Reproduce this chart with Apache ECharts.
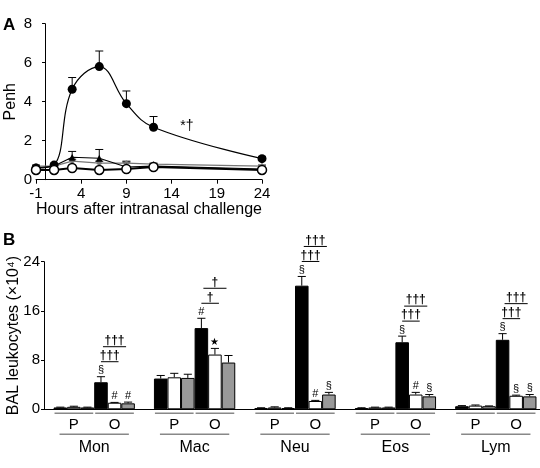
<!DOCTYPE html>
<html>
<head>
<meta charset="utf-8">
<script src="https://cdn.jsdelivr.net/npm/echarts@6/dist/echarts.min.js"></script>
<style>
html, body { margin: 0; padding: 0; background: #fff; }
#main { width: 540px; height: 468px; }
</style>
</head>
<body>
<div id="main"></div>
<script>
// ---- panel A: Penh over time ----
var hours = [-1, 1, 3, 6, 9, 12, 24];
var penhBlack = [0.6, 0.75, 4.64, 5.8, 3.9, 2.69, 1.08];
var penhBlackErr = [0.1, 0.1, 0.6, 0.8, 0.65, 0.55, 0.1];
var penhTri = [0.6, 0.7, 1.15, 1.1, 0.65, 0.7, 0.55];
var penhTriErr = [0.05, 0.05, 0.3, 0.45, 0.25, 0.1, 0.05];
var penhGray = [0.7, 0.7, 0.95, 0.85, 0.85, 0.8, 0.7];
var penhGrayErr = [0.05, 0.05, 0.1, 0.1, 0.1, 0.05, 0.05];
var penhOpen = [0.5, 0.5, 0.6, 0.5, 0.55, 0.65, 0.5];
var noteAText = '*†';
var noteAPos = [15.7, 2.75];

// ---- panel B: BAL leukocytes ----
var cellTypes = ['Mon', 'Mac', 'Neu', 'Eos', 'Lym'];
var pBlack = [0.3, 5.0, 0.2, 0.2, 0.5];
var pWhite = [0.4, 5.2, 0.3, 0.3, 0.6];
var pGray = [0.3, 5.1, 0.2, 0.3, 0.5];
var oBlack = [4.4, 13.2, 20.1, 10.9, 11.3];
var oWhite = [1.07, 8.9, 1.35, 2.4, 2.2];
var oGray = [0.97, 7.6, 2.4, 2.1, 2.1];
var pBlackErr = [0.05, 0.5, 0.05, 0.05, 0.1];
var pWhiteErr = [0.1, 0.65, 0.1, 0.05, 0.1];
var pGrayErr = [0.05, 0.6, 0.05, 0.05, 0.05];
var oBlackErr = [0.9, 1.6, 1.5, 1.0, 1.0];
var oWhiteErr = [0.05, 1.0, 0.1, 0.35, 0.1];
var oGrayErr = [0.2, 1.15, 0.35, 0.3, 0.3];
var oBlackMark = ['§', '#', '§', '§', '§'];
var oWhiteMark = ['#', '★', '#', '#', '§'];
var oGrayMark = ['#', '', '§', '§', '§'];
var bracketNear = ['†††', '†', '†††', '†††', '†††'];
var bracketFar = ['†††', '†', '†††', '†††', '†††'];

var FONT = "'Liberation Sans', Arial, sans-serif";
var GAP = 0.19;

var barVals = [pBlack, pWhite, pGray, oBlack, oWhite, oGray];
var barErrs = [pBlackErr, pWhiteErr, pGrayErr, oBlackErr, oWhiteErr, oGrayErr];
var barMarks = [null, null, null, oBlackMark, oWhiteMark, oGrayMark];
var barFill = ['#000', '#fff', '#999', '#000', '#fff', '#999'];

function pair(xs, ys) {
    return xs.map(function (x, i) { return [x, ys[i]]; });
}

// x centre of bar k in category cat, same layout as the bar series
function barX(api, cat, k) {
    var c = api.coord([cat, 0]);
    var band = api.size([1, 0])[0];
    var w = band * (1 - GAP) / 6;
    return { x: c[0] - band * (1 - GAP) / 2 + (k + 0.5) * w, w: w, y0: c[1] };
}

function errA(vals, errs) {
    return {
        type: 'custom', xAxisIndex: 0, yAxisIndex: 0, z: 1,
        data: hours.map(function (h, i) { return [h, vals[i], errs[i]]; }),
        renderItem: function (params, api) {
            var p0 = api.coord([api.value(0), api.value(1)]);
            var p1 = api.coord([api.value(0), api.value(1) + api.value(2)]);
            var st = { stroke: '#000', lineWidth: 1 };
            return { type: 'group', children: [
                { type: 'line', shape: { x1: p0[0], y1: p0[1], x2: p1[0], y2: p1[1] }, style: st },
                { type: 'line', shape: { x1: p1[0] - 4, y1: p1[1], x2: p1[0] + 4, y2: p1[1] }, style: st }
            ]};
        }
    };
}

var barSeries = barVals.map(function (vals, k) {
    return {
        type: 'bar', xAxisIndex: 1, yAxisIndex: 1,
        data: vals, barGap: '0%', barCategoryGap: (GAP * 100) + '%',
        itemStyle: { color: barFill[k], borderColor: '#000', borderWidth: 1 },
        silent: true
    };
});

var errDataB = [];
barVals.forEach(function (vals, k) {
    vals.forEach(function (v, cat) { errDataB.push([cat, v + barErrs[k][cat], k]); });
});

var option = {
    animation: false,
    title: [
        { text: 'A', left: 3, top: 17, padding: 0, textStyle: { fontFamily: FONT, fontSize: 17, fontWeight: 'bold', color: '#000' } },
        { text: 'B', left: 3, top: 232, padding: 0, textStyle: { fontFamily: FONT, fontSize: 17, fontWeight: 'bold', color: '#000' } }
    ],
    grid: [
        { left: 36, top: 23.7, width: 226, height: 156, outerBoundsMode: 'none' },
        { left: 44, top: 261.7, width: 502, height: 147.6, outerBoundsMode: 'none' }
    ],
    xAxis: [
        {
            type: 'value', gridIndex: 0, min: -1, max: 24, interval: 5,
            name: 'Hours after intranasal challenge', nameLocation: 'middle', nameGap: 22,
            nameMoveOverlap: false,
            nameTextStyle: { fontFamily: FONT, fontSize: 16, color: '#000' },
            axisLine: { lineStyle: { color: '#000', width: 1 } },
            axisTick: { length: 4, lineStyle: { color: '#000' } },
            axisLabel: { fontFamily: FONT, fontSize: 15, color: '#000', margin: 7 },
            splitLine: { show: false }
        },
        {
            type: 'category', gridIndex: 1, data: cellTypes,
            axisLine: { lineStyle: { color: '#000', width: 1 } },
            axisTick: { length: 3, lineStyle: { color: '#000' } },
            axisLabel: { fontFamily: FONT, fontSize: 16, color: '#000', margin: 30 },
            splitLine: { show: false }
        }
    ],
    yAxis: [
        {
            type: 'value', gridIndex: 0, min: 0, max: 8, interval: 2,
            name: 'Penh', nameLocation: 'middle', nameGap: 17, nameMoveOverlap: false,
            nameTextStyle: { fontFamily: FONT, fontSize: 16, color: '#000' },
            axisLine: { onZero: true, lineStyle: { color: '#000', width: 1 } },
            axisTick: { show: true, length: 3, lineStyle: { color: '#000' } },
            axisLabel: { fontFamily: FONT, fontSize: 15, color: '#000', margin: 4 },
            splitLine: { show: false }
        },
        {
            type: 'value', gridIndex: 1, min: 0, max: 24, interval: 8,
            name: 'BAL leukocytes (×10⁴)', nameLocation: 'middle', nameGap: 22, nameMoveOverlap: false,
            nameTextStyle: { fontFamily: FONT, fontSize: 16, color: '#000' },
            axisLine: { show: true, lineStyle: { color: '#000', width: 1 } },
            axisTick: { show: true, length: 3, lineStyle: { color: '#000' } },
            axisLabel: { fontFamily: FONT, fontSize: 15, color: '#000', margin: 4 },
            splitLine: { show: false }
        }
    ],
    series: [
        errA(penhBlack, penhBlackErr),
        errA(penhTri, penhTriErr),
        errA(penhGray, penhGrayErr),
        {
            type: 'line', xAxisIndex: 0, yAxisIndex: 0, data: pair(hours, penhGray),
            symbol: 'diamond', symbolSize: 6, itemStyle: { color: '#777' },
            lineStyle: { color: '#777', width: 1.2 }
        },
        {
            type: 'line', xAxisIndex: 0, yAxisIndex: 0, data: pair(hours, penhTri),
            symbol: 'triangle', symbolSize: 7, itemStyle: { color: '#000' },
            lineStyle: { color: '#000', width: 1.2 }
        },
        {
            type: 'line', xAxisIndex: 0, yAxisIndex: 0, data: pair(hours, penhBlack),
            smooth: 0.4, symbol: 'circle', symbolSize: 9, itemStyle: { color: '#000' },
            lineStyle: { color: '#000', width: 1.2 }
        },
        {
            type: 'line', xAxisIndex: 0, yAxisIndex: 0, data: pair(hours, penhOpen),
            symbol: 'circle', symbolSize: 9,
            itemStyle: { color: '#fff', borderColor: '#000', borderWidth: 1.5 },
            lineStyle: { color: '#000', width: 2 }
        },
        {
            // "*†" next to the curve
            type: 'custom', xAxisIndex: 0, yAxisIndex: 0,
            data: [noteAPos],
            renderItem: function (params, api) {
                var p = api.coord([api.value(0), api.value(1)]);
                return { type: 'text', x: p[0], y: p[1], style: {
                    text: noteAText, fontFamily: FONT, fontSize: 14, fill: '#000',
                    align: 'center', verticalAlign: 'middle' } };
            }
        }
    ].concat(barSeries).concat([
        {
            // error bars + markers above bars
            type: 'custom', xAxisIndex: 1, yAxisIndex: 1, z: 3,
            data: errDataB,
            renderItem: function (params, api) {
                var cat = api.value(0), k = api.value(2);
                var b = barX(api, cat, k);
                var yTop = api.coord([cat, api.value(1)])[1];
                var yBar = api.coord([cat, barVals[k][cat]])[1];
                var st = { stroke: '#000', lineWidth: 1 };
                var ch = [
                    { type: 'line', shape: { x1: b.x, y1: yBar, x2: b.x, y2: yTop }, style: st },
                    { type: 'line', shape: { x1: b.x - b.w * 0.3, y1: yTop, x2: b.x + b.w * 0.3, y2: yTop }, style: st }
                ];
                var m = barMarks[k] ? barMarks[k][cat] : '';
                if (m) {
                    ch.push({ type: 'text', x: b.x, y: yTop - 1, style: {
                        text: m, fontFamily: FONT, fontSize: m === '★' ? 10 : 11, fill: '#000',
                        align: 'center', verticalAlign: 'bottom' } });
                }
                return { type: 'group', children: ch };
            }
        },
        {
            // significance brackets over the O bars
            type: 'custom', xAxisIndex: 1, yAxisIndex: 1, z: 3,
            data: cellTypes.map(function (c, i) { return [i, oBlack[i] + oBlackErr[i]]; }),
            renderItem: function (params, api) {
                var cat = api.value(0);
                var yTop = api.coord([cat, api.value(1)])[1];
                var b3 = barX(api, cat, 3), b4 = barX(api, cat, 4), b5 = barX(api, cat, 5);
                var st = { stroke: '#000', lineWidth: 1 };
                var y1 = yTop - 15, y2 = yTop - 30;
                var n1 = b3.x, n2 = b4.x + 4, f1 = b3.x + 2, f2 = b5.x - 2;
                var ts = function (t, x, y) {
                    return { type: 'text', x: x, y: y, style: {
                        text: t, fontFamily: FONT, fontSize: 12, fontWeight: 'bold', fill: '#000',
                        align: 'center', verticalAlign: 'bottom' } };
                };
                return { type: 'group', children: [
                    { type: 'line', shape: { x1: n1, y1: y1, x2: n2, y2: y1 }, style: st },
                    ts(bracketNear[cat], (n1 + n2) / 2, y1),
                    { type: 'line', shape: { x1: f1, y1: y2, x2: f2, y2: y2 }, style: st },
                    ts(bracketFar[cat], (f1 + f2) / 2, y2)
                ]};
            }
        },
        {
            // P / O group lines and labels under the axis
            type: 'custom', xAxisIndex: 1, yAxisIndex: 1, clip: false,
            data: cellTypes.map(function (c, i) { return [i, 0]; }),
            renderItem: function (params, api) {
                var cat = api.value(0);
                var b0 = barX(api, cat, 0), b2 = barX(api, cat, 2), b3 = barX(api, cat, 3), b5 = barX(api, cat, 5);
                var y = b0.y0, hw = b0.w / 2;
                var st = { stroke: '#888', lineWidth: 1.6 };
                var lab = function (t, x) {
                    return { type: 'text', x: x, y: y + 16, style: {
                        text: t, fontFamily: FONT, fontSize: 15, fill: '#000',
                        align: 'center', verticalAlign: 'middle' } };
                };
                return { type: 'group', children: [
                    { type: 'line', shape: { x1: b0.x - hw + 1, y1: y + 4, x2: b2.x + hw - 1, y2: y + 4 }, style: st },
                    { type: 'line', shape: { x1: b3.x - hw + 1, y1: y + 4, x2: b5.x + hw - 1, y2: y + 4 }, style: st },
                    lab('P', b0.x + (b2.x - b0.x) / 2),
                    lab('O', b3.x + (b5.x - b3.x) / 2),
                    { type: 'line', shape: { x1: b0.x - hw + 6, y1: y + 25, x2: b5.x + hw - 6, y2: y + 25 }, style: st }
                ]};
            }
        }
    ])
};

var chart = echarts.init(document.getElementById('main'));
chart.setOption(option);
</script>
</body>
</html>
